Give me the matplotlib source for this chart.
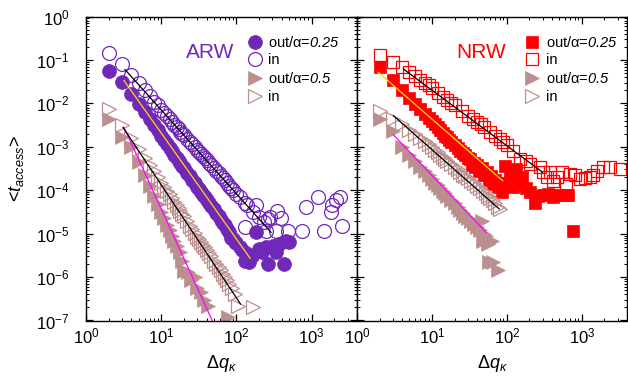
import matplotlib
matplotlib.use("Agg")
import matplotlib.pyplot as plt
from matplotlib.ticker import LogLocator, NullFormatter

plt.rcParams['font.family'] = ['Liberation Sans', 'DejaVu Sans']
plt.rcParams['mathtext.fontset'] = 'custom'
plt.rcParams['mathtext.rm'] = 'Liberation Sans'
plt.rcParams['mathtext.it'] = 'Liberation Sans:italic'
plt.rcParams['mathtext.sf'] = 'Liberation Sans:italic'
plt.rcParams['mathtext.bf'] = 'Liberation Sans:bold'

# ---------------- ARW panel data ----------------
arw_out25_x = [2, 3, 4, 5, 6, 7, 8, 9, 10, 11, 12, 13, 14, 15, 16, 17, 18, 19, 20, 22, 24, 26, 28, 30,
               32, 34, 36, 38, 40, 43, 46, 50, 54, 58, 62, 66, 70, 75, 80, 85, 90, 95, 100, 110, 120,
               128, 134, 148, 160, 183, 201, 220, 246, 260, 302, 335, 370, 433, 455, 504]
arw_out25_y = [5.7e-2, 3.1e-2, 1.6e-2, 9.5e-3, 6.2e-3, 4.4e-3, 3.1e-3, 2.4e-3, 1.75e-3, 1.4e-3, 1.15e-3,
               9.5e-4, 7.8e-4, 6.6e-4, 5.6e-4, 4.8e-4, 4.2e-4, 3.6e-4, 3.2e-4, 2.5e-4, 2.1e-4, 1.7e-4,
               1.45e-4, 1.2e-4, 1.05e-4, 9.0e-5, 7.8e-5, 7.0e-5, 6.0e-5, 5.2e-5, 4.4e-5, 3.6e-5, 3.0e-5,
               2.5e-5, 2.1e-5, 1.75e-5, 1.55e-5, 1.3e-5, 1.1e-5, 8.0e-6, 7.5e-6, 6.5e-6, 6.0e-6, 5.0e-6,
               4.2e-6, 2.4e-6, 3.5e-6, 2.2e-6, 3.0e-6, 1.07e-5, 4.5e-6, 3.7e-6, 4.8e-6, 2.0e-6, 5.2e-6,
               3.7e-6, 5.8e-6, 2.0e-6, 6.9e-6, 6.3e-6]

arw_in25_x = [2, 3, 4, 5, 6, 7, 8, 9, 10, 11, 12, 13, 14, 15, 16, 17, 18, 19, 20, 22, 24, 26, 28, 30,
              32, 34, 36, 38, 40, 43, 46, 50, 54, 58, 62, 66, 70, 75, 80, 85, 90, 100, 110, 128, 130,
              140, 165, 183, 201, 230, 246, 260, 275, 335, 350, 390, 480, 750, 838, 1230, 1470, 1790,
              1870, 2100, 2380, 2540]
arw_in25_y = [1.43e-1, 8.1e-2, 4.6e-2, 3.0e-2, 2.0e-2, 1.5e-2, 1.1e-2, 9.0e-3, 7.2e-3, 6.0e-3, 5.0e-3,
              4.4e-3, 3.8e-3, 3.2e-3, 2.9e-3, 2.6e-3, 2.2e-3, 2.0e-3, 1.85e-3, 1.55e-3, 1.3e-3, 1.15e-3,
              1.0e-3, 8.5e-4, 7.5e-4, 6.8e-4, 6.0e-4, 5.5e-4, 5.0e-4, 4.3e-4, 3.8e-4, 3.3e-4, 2.8e-4,
              2.5e-4, 2.1e-4, 1.9e-4, 1.7e-4, 1.45e-4, 1.25e-4, 1.15e-4, 1.0e-4, 8.0e-5, 6.8e-5, 1.4e-5,
              5.0e-5, 4.5e-5, 3.2e-5, 4.5e-5, 2.4e-5, 1.9e-5, 1.17e-5, 2.2e-5, 2.4e-5, 1.17e-5, 3.4e-5,
              2.3e-5, 1.17e-5, 1.17e-5, 4.1e-5, 6.9e-5, 1.17e-5, 3.1e-5, 4.5e-5, 5.8e-5, 6.9e-5, 1.5e-5]

arw_out50_x = [2, 3, 4, 5, 6, 7, 8, 9, 10, 11, 12, 13, 14, 15, 16, 18, 19, 20, 23, 25, 28, 30, 34, 37,
               42, 78]
arw_out50_y = [4.4e-3, 1.7e-3, 1.0e-3, 4.5e-4, 2.2e-4, 1.25e-4, 7.5e-5, 4.8e-5, 3.2e-5, 2.3e-5, 1.6e-5,
               1.2e-5, 9.0e-6, 6.8e-6, 5.2e-6, 3.7e-6, 2.3e-6, 1.4e-6, 1.3e-6, 8.5e-7, 1.0e-6, 5.5e-7,
               4.5e-7, 3.0e-7, 2.2e-7, 1.2e-7]

arw_in50_x = [2, 3, 4, 5, 6, 7, 8, 9, 10, 11, 12, 13, 14, 15, 16, 17, 18, 19, 20, 22, 24, 26, 28, 30,
              32, 34, 36, 38, 40, 43, 46, 50, 54, 58, 62, 66, 70, 75, 80, 88, 95, 105, 164]
arw_in50_y = [7.6e-3, 3.1e-3, 1.6e-3, 9.0e-4, 5.5e-4, 3.8e-4, 2.7e-4, 2.0e-4, 1.5e-4, 1.2e-4, 9.5e-5,
              8.0e-5, 6.5e-5, 5.3e-5, 4.5e-5, 3.8e-5, 3.3e-5, 2.9e-5, 2.5e-5, 2.0e-5, 1.5e-5, 1.25e-5,
              1.05e-5, 8.5e-6, 7.5e-6, 6.5e-6, 5.5e-6, 4.8e-6, 4.2e-6, 3.5e-6, 3.0e-6, 2.4e-6, 2.0e-6,
              1.7e-6, 1.45e-6, 1.2e-6, 1.0e-6, 8.5e-7, 7.0e-7, 5.5e-7, 4.0e-7, 2.2e-7, 2.0e-7]

# fitted lines (end points)
arw_fit_out25_x = [3.2, 152]
arw_fit_out25_y = [3.35e-2, 2.7e-6]
arw_fit_in25_x = [3.3, 288]
arw_fit_in25_y = [6.0e-2, 1.07e-5]
arw_fit_out50_x = [3.2, 47.6]
arw_fit_out50_y = [2.8e-3, 1.0e-7]
arw_fit_in50_x = [3.1, 113]
arw_fit_in50_y = [2.8e-3, 2.4e-7]

# ---------------- NRW panel data ----------------
nrw_out25_x = [2, 3, 4, 5, 6, 7, 8, 9, 10, 11, 12, 13, 14, 15, 16, 17, 18, 20, 22, 24, 26, 28, 30, 32,
               34, 36, 38, 40, 43, 46, 50, 54, 58, 62, 66, 70, 75, 80, 85, 94, 99, 104, 110, 120, 134,
               141, 160, 180, 203, 237, 260, 304, 355, 414, 500, 620, 650, 760]
nrw_out25_y = [6.8e-2, 3.5e-2, 2.0e-2, 1.3e-2, 9.5e-3, 7.3e-3, 5.8e-3, 4.7e-3, 3.9e-3, 3.3e-3, 2.8e-3,
               2.4e-3, 2.1e-3, 1.8e-3, 1.65e-3, 1.45e-3, 1.3e-3, 1.1e-3, 9.5e-4, 8.2e-4, 7.3e-4, 6.4e-4,
               5.6e-4, 5.1e-4, 3.9e-4, 4.3e-4, 3.4e-4, 3.9e-4, 2.8e-4, 3.2e-4, 2.2e-4, 2.6e-4, 1.7e-4,
               2.1e-4, 1.4e-4, 1.7e-4, 1.2e-4, 1.5e-4, 9.0e-5, 3.7e-4, 1.5e-4, 1.4e-4, 2.5e-4, 1.2e-4,
               3.1e-4, 1.4e-4, 2.0e-4, 1.1e-4, 8.9e-5, 5.2e-5, 7.5e-5, 7.6e-5, 8.1e-5, 6.9e-5, 7.6e-5,
               7.6e-5, 7.6e-5, 1.17e-5]

nrw_in25_x = [2, 3, 4, 5, 6, 7, 8, 9, 10, 12, 14, 16, 18, 20, 25, 30, 35, 40, 45, 50, 60, 70, 80, 90,
              100, 120, 149, 180, 203, 275, 300, 340, 370, 414, 460, 540, 620, 700, 800, 940, 1100,
              1280, 1400, 1570, 1930, 2370, 3220]
nrw_in25_y = [1.33e-1, 8.9e-2, 6.8e-2, 5.3e-2, 4.2e-2, 3.5e-2, 3.0e-2, 2.6e-2, 2.2e-2, 1.7e-2, 1.4e-2,
              1.2e-2, 1.0e-2, 9.0e-3, 6.6e-3, 5.2e-3, 4.4e-3, 3.8e-3, 3.3e-3, 2.8e-3, 2.2e-3, 1.8e-3,
              1.5e-3, 1.3e-3, 1.1e-3, 8.0e-4, 5.3e-4, 4.6e-4, 4.1e-4, 3.4e-4, 2.6e-4, 2.0e-4, 2.6e-4,
              1.66e-4, 2.0e-4, 2.6e-4, 1.4e-4, 2.4e-4, 2.2e-4, 1.8e-4, 1.9e-4, 2.0e-4, 2.2e-4, 2.8e-4,
              3.4e-4, 3.4e-4, 3.1e-4]

nrw_out50_x = [2, 3, 4, 5, 6, 7, 8, 9, 10, 11, 12, 13, 14, 15, 16, 18, 20, 22, 24, 26, 28, 30, 33, 36,
               40, 44, 46, 48, 50, 53, 56, 57, 63, 66, 76]
nrw_out50_y = [4.4e-3, 2.3e-3, 1.0e-3, 6.5e-4, 4.7e-4, 3.5e-4, 2.8e-4, 2.2e-4, 1.8e-4, 1.5e-4, 1.3e-4,
               1.1e-4, 9.5e-5, 8.5e-5, 7.5e-5, 6.0e-5, 5.0e-5, 4.2e-5, 3.5e-5, 3.0e-5, 2.6e-5, 2.3e-5,
               2.0e-5, 1.7e-5, 1.4e-5, 1.2e-5, 2.0e-5, 6.9e-6, 1.0e-5, 9.0e-6, 5.8e-6, 2.2e-6, 6.9e-6,
               2.2e-6, 1.45e-6]

nrw_in50_x = [2, 3, 4, 5, 6, 7, 8, 9, 10, 11, 12, 13, 14, 15, 16, 18, 20, 22, 24, 26, 28, 30, 33, 36,
              40, 44, 48, 52, 56, 60, 65, 70, 76, 80]
nrw_in50_y = [6.8e-3, 4.4e-3, 3.3e-3, 2.5e-3, 2.0e-3, 1.6e-3, 1.35e-3, 1.15e-3, 1.0e-3, 8.5e-4, 7.5e-4,
              6.5e-4, 5.8e-4, 5.2e-4, 4.7e-4, 4.0e-4, 3.4e-4, 3.0e-4, 2.6e-4, 2.3e-4, 2.1e-4, 1.9e-4,
              1.65e-4, 1.45e-4, 1.25e-4, 1.1e-4, 9.5e-5, 8.5e-5, 7.5e-5, 6.5e-5, 5.8e-5, 5.2e-5, 4.2e-5,
              3.7e-5]

nrw_fit_out25_x = [1.92, 87.6]
nrw_fit_out25_y = [5.2e-2, 1.66e-4]
nrw_fit_in25_x = [4.15, 299]
nrw_fit_in25_y = [6.2e-2, 2.6e-4]
nrw_fit_out50_x = [3.06, 53.6]
nrw_fit_out50_y = [1.88e-3, 1.04e-5]
nrw_fit_in50_x = [3.06, 79]
nrw_fit_in50_y = [5.2e-3, 3.7e-5]

labels = ['out/α=$\\mathsf{0.25}$', 'in', 'out/α=$\\mathsf{0.5}$', 'in']

PURPLE = '#7028B8'
ROSY = '#BC8F8F'
RED = '#FF0000'
YELLOW = '#FFD800'
MAGENTA = '#FF00FF'

fig = plt.figure(figsize=(6.28, 3.8), dpi=100)
W, H = 628.0, 380.0
ax1 = fig.add_axes([86 / W, 59.5 / H, 271 / W, 304 / H])
ax2 = fig.add_axes([357 / W, 59.5 / H, 270 / W, 304 / H])

ms_c, ms_t, ms_s = 10, 10, 8.6
mew = 0.9

def panel(ax, c, mk, ms, out25, in25, out50, in50, fits, title, leg_x, pad):
    h1, = ax.plot(out25[0], out25[1], ls='none', marker=mk, ms=ms, mfc=c, mec=c, mew=0.5)
    h2, = ax.plot(in25[0], in25[1], ls='none', marker=mk, ms=ms, mfc='none', mec=c, mew=mew)
    h3, = ax.plot(out50[0], out50[1], ls='none', marker='>', ms=ms_t, mfc=ROSY, mec=ROSY, mew=0.5)
    h4, = ax.plot(in50[0], in50[1], ls='none', marker='>', ms=ms_t, mfc='none', mec=ROSY, mew=mew)
    for (fx, fy), col in zip(fits, [YELLOW, 'black', MAGENTA, 'black']):
        ax.plot(fx, fy, color=col, lw=0.9, zorder=5)
    ax.set_xscale('log')
    ax.set_yscale('log')
    ax.set_xlim(1, 4000)
    ax.set_ylim(1e-7, 1)
    ax.xaxis.set_major_locator(LogLocator(base=10, numticks=10))
    ax.xaxis.set_minor_locator(LogLocator(base=10, subs=range(2, 10), numticks=20))
    ax.yaxis.set_minor_locator(LogLocator(base=10, subs=range(2, 10), numticks=20))
    ax.xaxis.set_minor_formatter(NullFormatter())
    ax.yaxis.set_minor_formatter(NullFormatter())
    ax.tick_params(which='both', direction='in', top=True, right=True, labelsize=12)
    ax.tick_params(which='major', length=5, width=0.9)
    ax.tick_params(which='minor', length=2.5, width=0.7)
    ax.tick_params(axis='x', pad=4)
    ax.tick_params(axis='y', pad=12)
    for s in ax.spines.values():
        s.set_linewidth(1.0)
    ax.text(0.458, 0.88, title, transform=ax.transAxes, color=c, fontsize=15,
            ha='center', va='center')
    ax.legend([h1, h2, h3, h4], labels, loc='upper left', bbox_to_anchor=(leg_x, 0.94),
              frameon=False, fontsize=10.5, handlelength=1.0, handletextpad=pad,
              labelspacing=0.25, borderpad=0, borderaxespad=0, numpoints=1)
    ax.set_xlabel(r'$\Delta\mathit{q}_{\kappa}$', fontsize=13, labelpad=5)

panel(ax1, PURPLE, 'o', ms_c,
      (arw_out25_x, arw_out25_y), (arw_in25_x, arw_in25_y),
      (arw_out50_x, arw_out50_y), (arw_in50_x, arw_in50_y),
      [(arw_fit_out25_x, arw_fit_out25_y), (arw_fit_in25_x, arw_fit_in25_y),
       (arw_fit_out50_x, arw_fit_out50_y), (arw_fit_in50_x, arw_fit_in50_y)],
      'ARW', 0.598, 0.37)
panel(ax2, RED, 's', ms_s,
      (nrw_out25_x, nrw_out25_y), (nrw_in25_x, nrw_in25_y),
      (nrw_out50_x, nrw_out50_y), (nrw_in50_x, nrw_in50_y),
      [(nrw_fit_out25_x, nrw_fit_out25_y), (nrw_fit_in25_x, nrw_fit_in25_y),
       (nrw_fit_out50_x, nrw_fit_out50_y), (nrw_fit_in50_x, nrw_fit_in50_y)],
      'NRW', 0.622, 0.44)
ax2.tick_params(axis='y', labelleft=False)

fig.text(16 / W, 1 - 168.5 / H, r'<$\mathit{t}_{\mathit{access}}$>', rotation=90,
         ha='center', va='center', fontsize=13)

fig.savefig('out.png', dpi=100)
